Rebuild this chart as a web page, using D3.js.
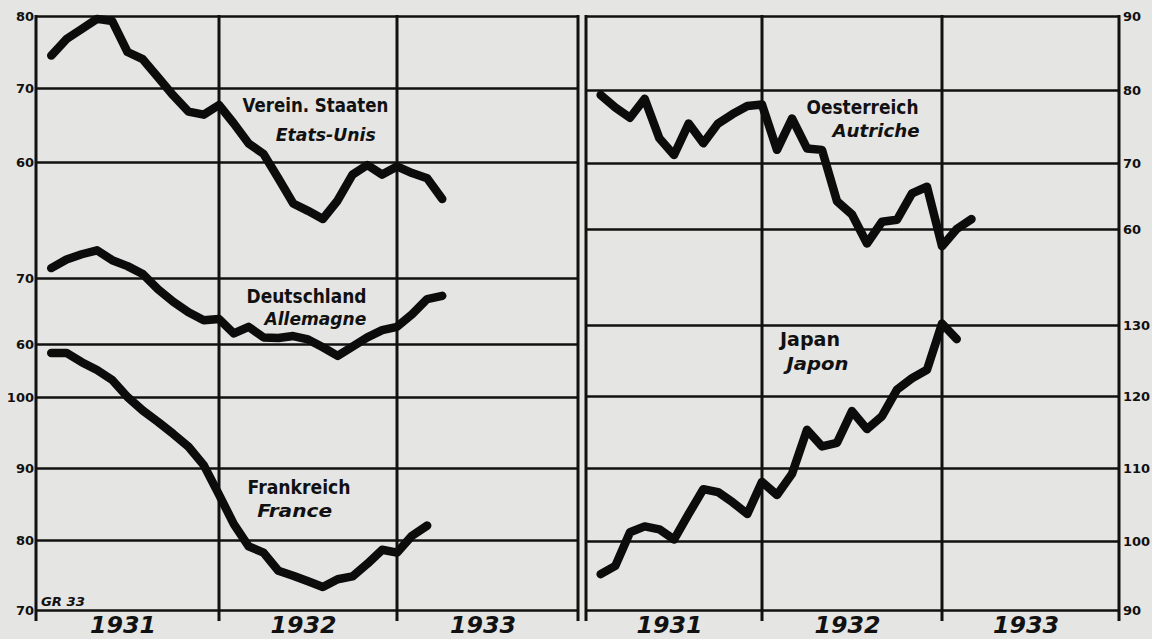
<!DOCTYPE html>
<meta charset="utf-8">
<head>
    <title>Industrieproduktion 1931-1933</title>
    <script src="https://cdn.jsdelivr.net/npm/d3@7/dist/d3.min.js"></script>
</head>

<style>
    body { margin: 0; background: #e5e5e3; }
    svg { display: block; }
    .grid .domain { display: none; }
    .grid line { stroke: #111; stroke-width: 2.5px; }
    .grid text { font-family: "DejaVu Sans", sans-serif; font-weight: bold; font-size: 13px; fill: #111; }
    .frame { stroke: #111; stroke-width: 3px; }
    .series { fill: none; stroke: #0c0c0c; stroke-width: 8.5px; stroke-linejoin: round; stroke-linecap: round; }
    .name { font-family: "DejaVu Sans", sans-serif; font-weight: bold; font-size: 19px; fill: #111; text-anchor: middle; }
    .name.fr { font-style: italic; font-size: 17px; }
    .years text { font-family: "DejaVu Sans", sans-serif; font-weight: bold; font-style: italic; font-size: 23px; fill: #111; }
    .years .domain, .years line { display: none; }
    .sign { font-family: "DejaVu Sans", sans-serif; font-style: italic; font-weight: bold; font-size: 12px; fill: #111; }
</style>

<svg></svg>

<script>
    var vWidth = 1152;
    var vHeight = 639;

    var vYears = ["1931", "1932", "1933"];

    // monthly index values, first value = January 1931
    var vUSA     = [74.5, 76.8, 78.2, 79.6, 79.3, 75.0, 74.0, 71.5, 69.0, 66.8, 66.4, 67.7,
                    65.2, 62.5, 61.1, 57.8, 54.4, 53.4, 52.3, 54.8, 58.3, 59.6, 58.3, 59.4,
                    58.5, 57.8, 55.0];
    var vGermany = [71.5, 72.8, 73.6, 74.2, 72.7, 71.8, 70.6, 68.3, 66.4, 64.8, 63.6, 63.8,
                    61.6, 62.6, 61.0, 60.9, 61.2, 60.7, 59.5, 58.2, 59.6, 61.0, 62.1, 62.6,
                    64.5, 66.8, 67.3];
    var vFrance  = [106.2, 106.2, 104.9, 103.8, 102.4, 100.0, 98.1, 96.5, 94.8, 93.0, 90.4, 86.3,
                    82.2, 79.1, 78.2, 75.6, 74.9, 74.1, 73.3, 74.4, 74.8, 76.6, 78.6, 78.2,
                    80.6, 82.0];
    var vAustria = [79.3, 77.6, 76.2, 78.8, 73.4, 71.1, 75.4, 72.7, 75.4, 76.7, 77.8, 78.0,
                    71.8, 76.1, 72.0, 71.8, 64.2, 62.2, 57.8, 61.1, 61.4, 65.4, 66.4, 57.4,
                    60.0, 61.5];
    var vJapan   = [95.2, 96.4, 101.2, 102.0, 101.6, 100.2, 103.7, 107.1, 106.7, 105.3, 103.7, 108.1,
                    106.3, 109.2, 115.3, 113.0, 113.5, 117.9, 115.4, 117.2, 120.9, 122.5, 123.7, 130.2,
                    128.0];

    // scale labels
    var vUSATicks     = [80, 70, 60];
    var vGermanyTicks = [70, 60];
    var vFranceTicks  = [100, 90, 80, 70];
    var vAustriaTicks = [90, 80, 70, 60];
    var vJapanTicks   = [130, 120, 110, 100, 90];

    var svg = d3.select('svg').attr('width', vWidth).attr('height', vHeight);

    // two panels, months 0..36 (hand drawn, so year widths differ slightly)
    var xLeft = d3.scaleLinear().domain([0, 12, 24, 36]).range([36, 219, 397, 578]);
    var xRight = d3.scaleLinear().domain([0, 12, 24, 36]).range([586, 762, 942, 1119]);

    var yUSA = d3.scaleLinear().domain([60, 70, 80]).range([162, 88, 16]);
    var yGermany = d3.scaleLinear().domain([60, 70]).range([344, 278]);
    var yFrance = d3.scaleLinear().domain([70, 80, 90, 100]).range([610, 540, 468, 397]);
    var yAustria = d3.scaleLinear().domain([60, 70, 80, 90]).range([229, 163, 90, 16]);
    var yJapan = d3.scaleLinear().domain([90, 100, 110, 120, 130]).range([610, 541, 468, 396, 325]);

    var vTop = 15, vBottom = 621;

    // horizontal grid lines + scale labels
    function leftGrid(y, ticks) {
        svg.append('g').attr('class', 'grid')
            .attr('transform', 'translate(' + xLeft(0) + ',0)')
            .call(d3.axisLeft(y).tickValues(ticks).tickSize(-(xLeft(36) - xLeft(0))).tickPadding(2));
    }
    function rightGrid(y, ticks) {
        svg.append('g').attr('class', 'grid')
            .attr('transform', 'translate(' + xRight(36) + ',0)')
            .call(d3.axisRight(y).tickValues(ticks).tickSize(-(xRight(36) - xRight(0))).tickPadding(4));
    }
    leftGrid(yUSA, vUSATicks);
    leftGrid(yGermany, vGermanyTicks);
    leftGrid(yFrance, vFranceTicks);
    rightGrid(yAustria, vAustriaTicks);
    rightGrid(yJapan, vJapanTicks);

    // vertical year lines and frame
    var vVerticals = [xLeft(0), xLeft(12), xLeft(24), xLeft(36), xRight(0), xRight(12), xRight(24), xRight(36)];
    svg.append('g').selectAll('line').data(vVerticals).enter().append('line')
        .attr('class', 'frame')
        .attr('x1', function (d) { return d; }).attr('x2', function (d) { return d; })
        .attr('y1', vTop).attr('y2', vBottom);

    // year labels
    [xLeft, xRight].forEach(function (x) {
        svg.append('g').attr('class', 'years')
            .attr('transform', 'translate(0,610)')
            .call(d3.axisBottom(x).tickValues([6, 18, 30])
                .tickFormat(function (d, i) { return vYears[i]; })
                .tickSize(0).tickPadding(7))
            .selectAll('text').attr('dx', -5)
            .attr('textLength', 66).attr('lengthAdjust', 'spacingAndGlyphs');
    });

    // curves, value i is placed at the end of month i
    function drawSeries(values, x, y) {
        var vLine = d3.line()
            .x(function (d, i) { return x(i + 1); })
            .y(function (d) { return y(d); });
        svg.append('path').attr('class', 'series').attr('d', vLine(values));
    }
    drawSeries(vUSA, xLeft, yUSA);
    drawSeries(vGermany, xLeft, yGermany);
    drawSeries(vFrance, xLeft, yFrance);
    drawSeries(vAustria, xRight, yAustria);
    drawSeries(vJapan, xRight, yJapan);

    // country names (German / French)
    function label(text, x, y, len, cls) {
        svg.append('text').attr('class', 'name ' + (cls || ''))
            .attr('x', x).attr('y', y)
            .attr('textLength', len).attr('lengthAdjust', 'spacingAndGlyphs')
            .text(text);
    }
    label('Verein. Staaten', xLeft(18.5), yUSA(66.8), 146);
    label('Etats-Unis', xLeft(19.2), yUSA(62.8), 100, 'fr');
    label('Deutschland', xLeft(17.9), yGermany(66.2), 120);
    label('Allemagne', xLeft(18.5), yGermany(62.9), 102, 'fr');
    label('Frankreich', xLeft(17.4), yFrance(86.4), 103);
    label('France', xLeft(17.1), yFrance(83.2), 75, 'fr');
    label('Oesterreich', xRight(18.7), yAustria(76.7), 112);
    label('Autriche', xRight(19.6), yAustria(73.5), 87, 'fr');
    label('Japan', xRight(15.2), yJapan(127.0), 60);
    label('Japon', xRight(15.7), yJapan(123.7), 62, 'fr');

    svg.append('text').attr('class', 'sign')
        .attr('x', xLeft(0) + 5).attr('y', 606)
        .attr('textLength', 44).attr('lengthAdjust', 'spacingAndGlyphs')
        .text('GR 33');
</script>
